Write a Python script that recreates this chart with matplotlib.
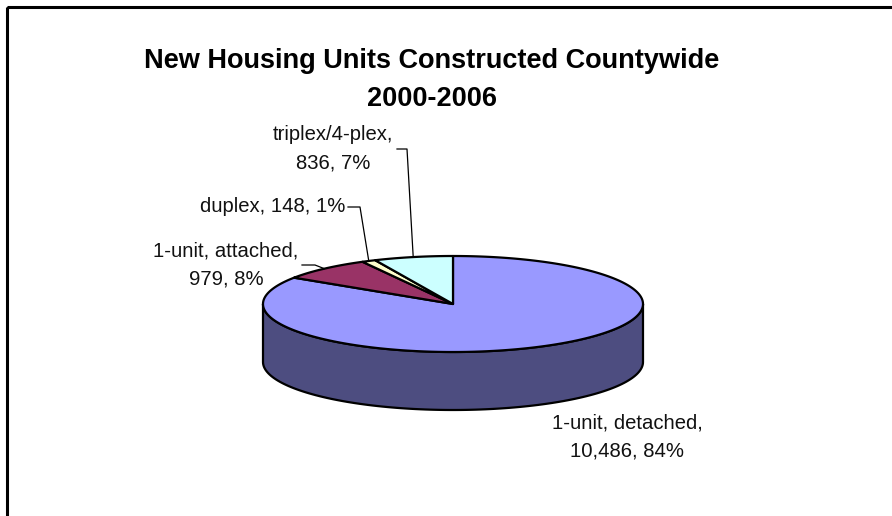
import numpy as np
import matplotlib
matplotlib.use("Agg")
import matplotlib.pyplot as plt
from matplotlib.patches import Polygon, Rectangle

plt.rcParams["font.family"] = ["Liberation Sans", "DejaVu Sans"]

# housing units by structure type, 2000-2006
categories = ["1-unit, detached", "1-unit, attached", "duplex", "triplex/4-plex"]
units = [10486, 979, 148, 836]
top_colors = ["#9999FF", "#993366", "#FFFFCC", "#CCFFFF"]
side_colors = ["#4D4D80", "#4D1A33", "#808066", "#668080"]
label_breaks = ["\n", "\n", " ", "\n"]

# pie geometry in pixel units (figure drawn 1:1 in pixels)
cx, cy = 453, 304
rx, ry = 190, 48
depth = 58


def ell(theta_deg, dy=0.0):
    # theta measured clockwise from 12 o'clock
    t = np.radians(theta_deg)
    return cx + rx * np.sin(t), cy - ry * np.cos(t) + dy


fig = plt.figure(figsize=(8.92, 5.16), dpi=100)
ax = fig.add_axes([0, 0, 1, 1])
ax.set_xlim(0, 892)
ax.set_ylim(516, 0)
ax.axis("off")

# chart frame (runs off the right and bottom edges)
ax.add_patch(Rectangle((7, 7), 900, 530, fill=False, lw=2.2, ec="black"))

vals = np.array(units, dtype=float)
fracs = vals / vals.sum()
edges = np.concatenate([[0], np.cumsum(fracs) * 360])

# front wall: visible part of the rim, 90..270 deg clockwise from top
for i in range(len(units)):
    lo, hi = max(edges[i], 90), min(edges[i + 1], 270)
    if hi <= lo:
        continue
    th = np.linspace(lo, hi, 120)
    tx, ty = ell(th)
    bx, by = ell(th[::-1], depth)
    pts = np.column_stack([np.concatenate([tx, bx]), np.concatenate([ty, by])])
    ax.add_patch(Polygon(pts, closed=True, fc=side_colors[i], ec="black", lw=1.6, joinstyle="round"))

# top faces
for i in range(len(units)):
    th = np.linspace(edges[i], edges[i + 1], max(int((edges[i + 1] - edges[i]) * 2), 4))
    x, y = ell(th)
    pts = np.column_stack([np.concatenate([[cx], x]), np.concatenate([[cy], y])])
    ax.add_patch(Polygon(pts, closed=True, fc=top_colors[i], ec="black", lw=1.6, joinstyle="round"))

# data labels
label_pos = [(627, 437), (226, 265), (273, 207), (333, 149)]
leader_start = [None, (302, 265), (348, 207), (397, 149)]
leader_elbow = [None, (315, 265), (360, 207), (407, 149)]
for i, name in enumerate(categories):
    pct = fracs[i] * 100
    txt = f"{name},{label_breaks[i]}{units[i]:,}, {pct:.0f}%"
    ax.text(*label_pos[i], txt, ha="center", va="center", fontsize=14.6,
            linespacing=1.6, color="#111111")
    if leader_start[i] is not None:
        mid = (edges[i] + edges[i + 1]) / 2
        ex, ey = ell(mid)
        ax.plot([leader_start[i][0], leader_elbow[i][0], ex],
                [leader_start[i][1], leader_elbow[i][1], ey], color="black", lw=0.9)

ax.text(432, 80, "New Housing Units Constructed Countywide\n2000-2006", ha="center", va="center",
        fontsize=19.5, fontweight="bold", linespacing=1.6)

fig.savefig("out.png", dpi=100)
